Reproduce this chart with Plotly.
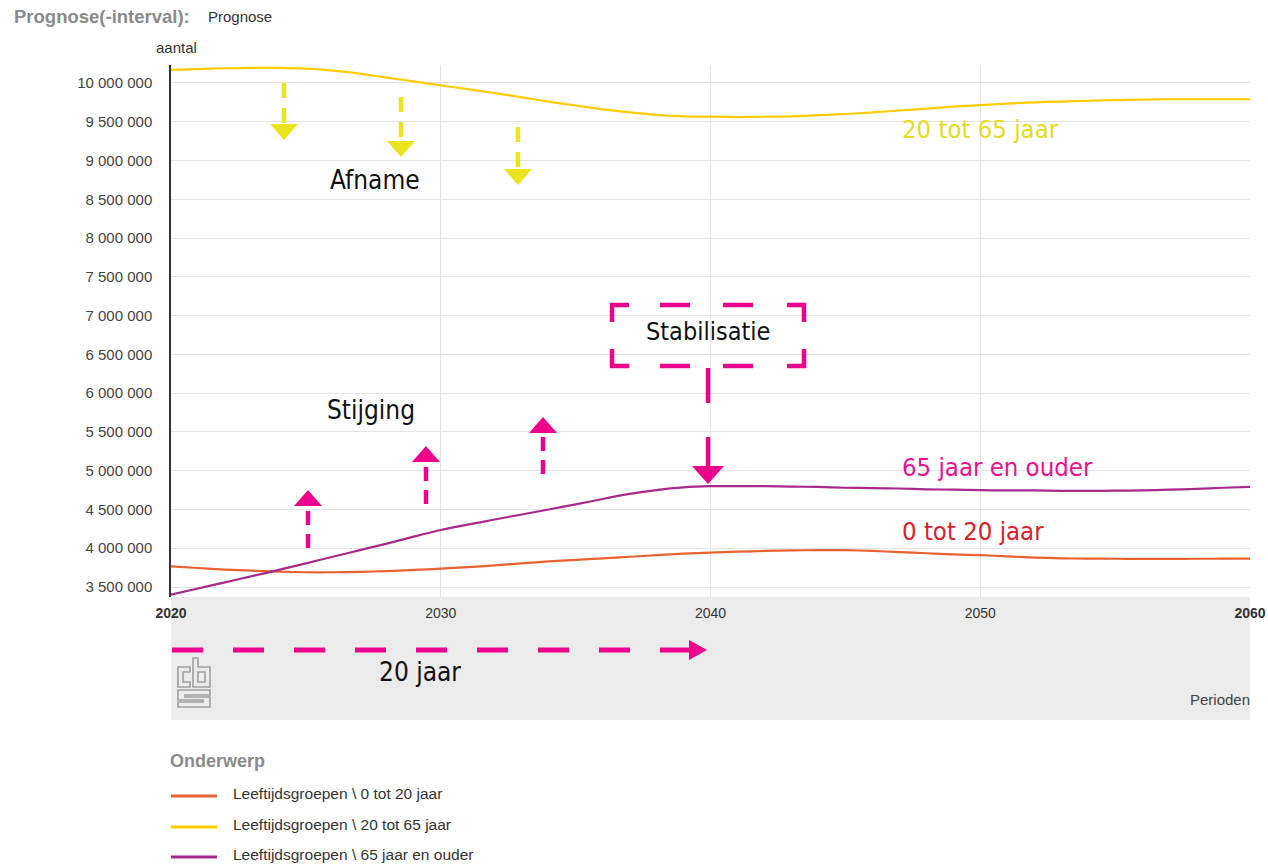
import plotly.graph_objects as go

# ---------------- data ----------------
years = list(range(2020, 2061))

series_names = [
    "Leeftijdsgroepen \\ 0 tot 20 jaar",
    "Leeftijdsgroepen \\ 20 tot 65 jaar",
    "Leeftijdsgroepen \\ 65 jaar en ouder",
]
series_colors = ["#e9612f", "#ffcc00", "#a8298b"]

age_0_20 = [3.767, 3.745, 3.725, 3.710, 3.698, 3.690, 3.690, 3.695, 3.705, 3.720,
            3.737, 3.755, 3.780, 3.805, 3.830, 3.850, 3.870, 3.890, 3.910, 3.930,
            3.944, 3.955, 3.965, 3.972, 3.975, 3.975, 3.965, 3.950, 3.935, 3.920,
            3.910, 3.895, 3.880, 3.870, 3.866, 3.864, 3.863, 3.863, 3.864, 3.865,
            3.866]
age_20_65 = [10.170, 10.180, 10.190, 10.195, 10.195, 10.185, 10.160, 10.120, 10.070, 10.020,
             9.970, 9.920, 9.870, 9.815, 9.760, 9.710, 9.660, 9.620, 9.590, 9.570,
             9.565, 9.560, 9.565, 9.570, 9.585, 9.600, 9.620, 9.645, 9.670, 9.695,
             9.715, 9.735, 9.750, 9.760, 9.770, 9.780, 9.785, 9.790, 9.790, 9.790,
             9.790]
age_65_plus = [3.400, 3.480, 3.560, 3.640, 3.720, 3.805, 3.890, 3.975, 4.060, 4.150,
               4.235, 4.305, 4.370, 4.435, 4.500, 4.565, 4.635, 4.700, 4.750, 4.785,
               4.800, 4.800, 4.800, 4.795, 4.790, 4.780, 4.775, 4.770, 4.760, 4.755,
               4.750, 4.745, 4.745, 4.740, 4.740, 4.742, 4.745, 4.755, 4.765, 4.780,
               4.790]
series_values = [age_0_20, age_20_65, age_65_plus]  # millions

y_tick_values = [3.5e6 + 5e5 * i for i in range(14)]
y_tick_labels = ["{:,}".format(int(v)).replace(",", " ") for v in y_tick_values]
x_tick_values = [2020, 2030, 2040, 2050, 2060]
x_tick_labels = ["<b>2020</b>", "2030", "2040", "2050", "<b>2060</b>"]

# ---------------- layout helpers (pixel -> paper) ----------------
W, H = 1268, 868
X0, X1, Y0, Y1 = 171, 1250, 65, 597


def px(x):
    return (x - X0) / (X1 - X0)


def py(y):
    return (Y1 - y) / (Y1 - Y0)


FONT = "Liberation Sans, Arial, Helvetica, sans-serif"
NARROW = "Liberation Sans Narrow, Arial Narrow, DejaVu Sans Condensed, sans-serif"
YELLOW_ANN = "#ebe31b"
PINK = "#ec008c"

fig = go.Figure()
for name, color, vals in zip(series_names, series_colors, series_values):
    fig.add_trace(go.Scatter(
        x=years, y=[v * 1e6 for v in vals], name=name, mode="lines",
        line=dict(color=color, width=2.2, shape="spline", smoothing=0.6),
        showlegend=False, hoverinfo="skip",
    ))

shapes = []
annotations = []

# gray band below plot
shapes.append(dict(type="rect", xref="paper", yref="paper", x0=px(171), x1=px(1250),
                   y0=py(720), y1=py(597), fillcolor="#ebebeb", line=dict(width=0), layer="below"))


def seg(x0, y0, x1, y1, color, width, dash="solid"):
    shapes.append(dict(type="line", xref="paper", yref="paper", x0=px(x0), y0=py(y0),
                       x1=px(x1), y1=py(y1), line=dict(color=color, width=width, dash=dash)))


def poly(points, color, width, closed=False, fill=None):
    path = "M " + " L ".join("{:.5f},{:.5f}".format(px(a), py(b)) for a, b in points)
    if closed:
        path += " Z"
    d = dict(type="path", xref="paper", yref="paper", path=path,
             line=dict(color=color, width=width))
    if fill:
        d["fillcolor"] = fill
        d["line"] = dict(width=0)
    shapes.append(d)


def tri(points, color):
    poly(points, color, 0, closed=True, fill=color)


# yellow down arrows
for x, ytop, ytip in [(284, 83, 140), (401, 97, 157), (518, 127, 185)]:
    seg(x, ytop, x, ytip - 14, YELLOW_ANN, 4.5, "15px,10px")
    tri([(x - 14, ytip - 16), (x + 14, ytip - 16), (x, ytip)], YELLOW_ANN)

# pink up arrows
for x, ybot, ytip in [(308, 548, 490), (426, 504, 446), (543, 474, 417)]:
    seg(x, ybot, x, ytip + 14, PINK, 4.5, "14px,9px")
    tri([(x - 14, ytip + 16), (x + 14, ytip + 16), (x, ytip)], PINK)

# Stabilisatie dashed box (corners + middle dashes)
BL, BR, BT, BB = 612, 804, 305, 366
poly([(BL, BT + 17), (BL, BT), (BL + 17, BT)], PINK, 4.5)
poly([(BR - 17, BT), (BR, BT), (BR, BT + 17)], PINK, 4.5)
poly([(BL, BB - 17), (BL, BB), (BL + 17, BB)], PINK, 4.5)
poly([(BR - 17, BB), (BR, BB), (BR, BB - 17)], PINK, 4.5)
for xa, xb in [(660, 690), (723, 753)]:
    seg(xa, BT, xb, BT, PINK, 4.5)
    seg(xa, BB, xb, BB, PINK, 4.5)
seg(708, 368, 708, 403, PINK, 4.5)
seg(708, 437, 708, 468, PINK, 4.5)
tri([(692, 466), (724, 466), (708, 484)], PINK)

# bottom 20-year arrow
seg(172, 650, 692, 650, PINK, 5, "31px,30px")
tri([(689, 640), (689, 660), (707, 650)], PINK)

# cbs logo (outline)
LOGO = "#a0a0a0"
poly([(190, 667), (178, 667), (178, 687), (190, 687), (190, 682), (183, 682), (183, 672), (190, 672)],
     LOGO, 1.6, closed=True)
poly([(193, 658), (198, 658), (198, 667), (210, 667), (210, 687), (193, 687)], LOGO, 1.6, closed=True)
poly([(198, 672), (205, 672), (205, 682), (198, 682)], LOGO, 1.6, closed=True)
poly([(210, 690), (178, 690), (178, 700), (203, 700), (203, 702), (178, 702), (178, 707), (210, 707),
      (210, 697), (185, 697), (185, 695), (210, 695)], LOGO, 1.6, closed=True)

# custom legend
legend_rows = [796, 827, 857]
for name, color, yy in zip(series_names, series_colors, legend_rows):
    seg(171, yy, 217, yy, color, 3)
    annotations.append(dict(xref="paper", yref="paper", x=px(231), y=py(yy - 3), text=name,
                            showarrow=False, xanchor="left", yanchor="middle",
                            font=dict(family=FONT, size=15.5, color="#333333")))
annotations.append(dict(xref="paper", yref="paper", x=px(168), y=py(761), text="<b>Onderwerp</b>",
                        showarrow=False, xanchor="left", yanchor="middle",
                        font=dict(family=FONT, size=18, color="#8a8a8a")))


def text(x, y, s, size, color, family=FONT, anchor="center"):
    annotations.append(dict(xref="paper", yref="paper", x=px(x), y=py(y), text=s,
                            showarrow=False, xanchor=anchor, yanchor="middle",
                            font=dict(family=family, size=size, color=color)))


text(12, 16, "<b>Prognose(-interval):</b>", 18.5, "#8a8a8a", anchor="left")
text(206, 16, "Prognose", 15, "#333333", anchor="left")
text(176, 47, "aantal", 15, "#333333")
text(1252, 699, "Perioden", 15, "#444444", anchor="right")

text(375, 180, "Afname", 26, "#111111", NARROW)
text(371, 410, "Stijging", 26, "#111111", NARROW)
text(708, 331, "Stabilisatie", 25, "#111111", NARROW)
text(420, 672, "20 jaar", 26, "#111111", NARROW)
text(900, 129, "20 tot 65 jaar", 25.5, "#e3dc22", NARROW, anchor="left")
text(900, 467, "65 jaar en ouder", 25.5, "#e8128f", NARROW, anchor="left")
text(900, 531, "0 tot 20 jaar", 25.5, "#d8212a", NARROW, anchor="left")

fig.update_layout(
    width=W, height=H, autosize=False,
    margin=dict(l=X0, r=W - X1, t=Y0, b=H - Y1, pad=0, autoexpand=False),
    paper_bgcolor="white", plot_bgcolor="white",
    shapes=shapes, annotations=annotations,
    showlegend=False,
    xaxis=dict(range=[2020, 2060], tickvals=x_tick_values, ticktext=x_tick_labels,
               showgrid=True, gridcolor="#e3e3e3", gridwidth=1, zeroline=False,
               showline=False, ticks="outside", ticklen=3, tickcolor="rgba(0,0,0,0)",
               automargin=False,
               tickfont=dict(family=FONT, size=14, color="#333333")),
    yaxis=dict(range=[3.371e6, 10.232e6], tickvals=y_tick_values, ticktext=y_tick_labels,
               showgrid=True, gridcolor="#e3e3e3", gridwidth=1, zeroline=False,
               showline=True, linecolor="#333333", linewidth=1.5,
               ticks="outside", ticklen=14, tickcolor="rgba(0,0,0,0)",
               automargin=False,
               tickfont=dict(family=FONT, size=15, color="#444444")),
)

fig.write_html(
    "out.html",
    config={"displayModeBar": False, "responsive": False},
    post_script="document.body.style.margin='0';document.body.style.overflow='hidden';",
)
